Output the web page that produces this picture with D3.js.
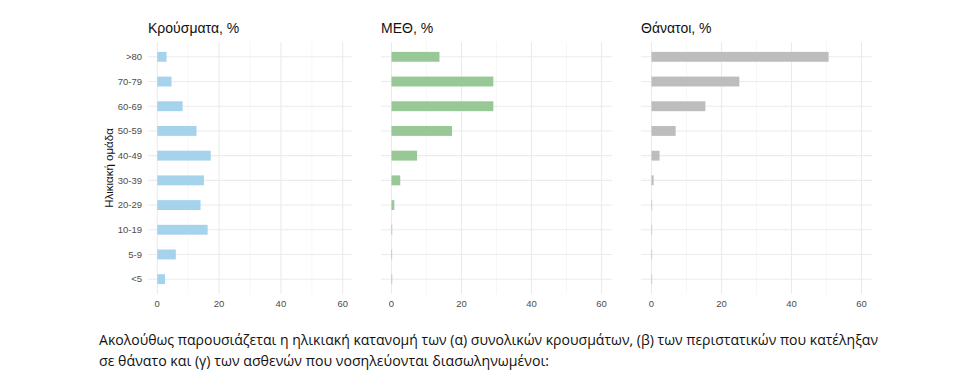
<!DOCTYPE html>
<html><head><meta charset="utf-8">
<script src="https://cdn.jsdelivr.net/npm/d3@7"></script>
<style>body{margin:0;background:#fff}svg{display:block}</style>
</head><body>
<svg id="c" width="968" height="390"></svg>
<script>
const ageGroups = [">80","70-79","60-69","50-59","40-49","30-39","20-29","10-19","5-9","<5"];
const casesPct = [3.0, 4.6, 8.2, 12.7, 17.3, 15.1, 14.0, 16.3, 6.0, 2.5];
const icuPct = [13.7, 29.1, 29.1, 17.3, 7.3, 2.5, 0.8, 0.2, 0.1, 0.2];
const deathsPct = [50.6, 25.1, 15.4, 6.9, 2.3, 0.6, 0.15, 0.15, 0.0, 0.15];
const panelTitles = ["Κρούσματα, %", "ΜΕΘ, %", "Θάνατοι, %"];
const panelColors = ["#a6d3ec", "#98c896", "#bdbdbd"];
const xTicks = [0, 20, 40, 60];
const xMinor = [10, 30, 50];
const yTitle = "Ηλικιακή ομάδα";
const bodyLines = [
  "Ακολούθως παρουσιάζεται η ηλικιακή κατανομή των (α) συνολικών κρουσμάτων, (β) των περιστατικών που κατέληξαν",
  "σε θάνατο και (γ) των ασθενών που νοσηλεύονται διασωληνωμένοι:"
];

const svg = d3.select("#c");
const font = "'Liberation Sans', Arial, sans-serif";
const series = [casesPct, icuPct, deathsPct];
const panels = [{x0:148, x1:352},{x0:381, x1:612},{x0:641, x1:872}];
const plotTop = 42, plotBottom = 294;

const yp = d3.scalePoint().domain(ageGroups).range([plotTop, plotBottom]).padding(0.6);
const step = yp.step();
const barH = step * 0.4;

panels.forEach((p, i) => {
  const x = d3.scaleLinear().domain([-3, 63]).range([p.x0, p.x1]);
  const g = svg.append("g");
  g.selectAll(".mn").data(xMinor).enter().append("line")
    .attr("x1", d => x(d)).attr("x2", d => x(d)).attr("y1", plotTop).attr("y2", plotBottom)
    .attr("stroke", "#f2f2f2").attr("stroke-width", 0.6);
  g.selectAll(".mj").data(xTicks).enter().append("line")
    .attr("x1", d => x(d)).attr("x2", d => x(d)).attr("y1", plotTop).attr("y2", plotBottom)
    .attr("stroke", "#ebebeb").attr("stroke-width", 1.1);
  g.selectAll(".hg").data(ageGroups).enter().append("line")
    .attr("x1", p.x0).attr("x2", p.x1).attr("y1", d => yp(d)).attr("y2", d => yp(d))
    .attr("stroke", "#ebebeb").attr("stroke-width", 1.1);
  g.selectAll(".bar").data(series[i]).enter().append("rect")
    .attr("x", x(0)).attr("y", (d, j) => yp(ageGroups[j]) - barH / 2)
    .attr("width", d => Math.max(0.6, x(d) - x(0))).attr("height", barH)
    .attr("fill", panelColors[i]);
  g.selectAll(".xt").data(xTicks).enter().append("text")
    .attr("x", d => x(d)).attr("y", 307).attr("text-anchor", "middle")
    .attr("font-family", font).attr("font-size", 9.5).attr("fill", "#4d4d4d")
    .text(d => d);
  g.append("text").attr("x", p.x0).attr("y", 33)
    .attr("font-family", font).attr("font-size", 14).attr("fill", "#111")
    .text(panelTitles[i]);
  if (i === 0) {
    g.selectAll(".yt").data(ageGroups).enter().append("text")
      .attr("x", 142).attr("y", d => yp(d) + 3.3).attr("text-anchor", "end")
      .attr("font-family", font).attr("font-size", 9.5).attr("fill", "#4d4d4d")
      .text(d => d);
    g.append("text").attr("transform", `translate(113,${(plotTop + plotBottom) / 2}) rotate(-90)`)
      .attr("text-anchor", "middle").attr("font-family", font).attr("font-size", 11.5)
      .attr("fill", "#111").text(yTitle);
  }
});

const widths = [779, 450];
bodyLines.forEach((t, i) => {
  svg.append("text").attr("x", 99).attr("y", 345 + i * 21)
    .attr("font-family", "'Liberation Sans Narrow', 'Open Sans', sans-serif").attr("font-size", 15)
    .attr("fill", "#111").attr("textLength", widths[i]).attr("lengthAdjust", "spacingAndGlyphs")
    .text(t);
});
</script>
</body></html>
